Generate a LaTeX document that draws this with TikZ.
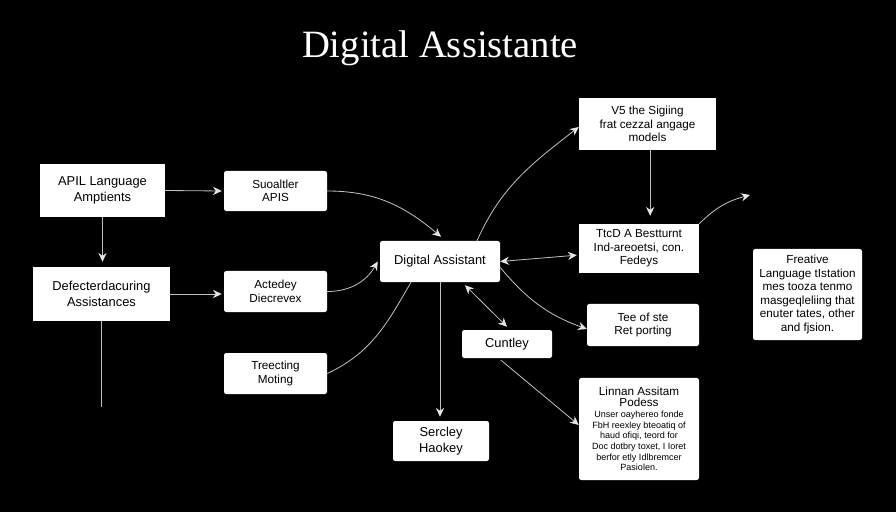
\documentclass[tikz,border=0pt]{standalone}
\usepackage{fontspec}
\setmainfont{Liberation Sans}
\newfontfamily\titlefont{Liberation Serif}
\usetikzlibrary{positioning}
\usetikzlibrary{arrows.meta}
\newcommand{\bodysize}{\fontsize{11}{13.6}\selectfont}
\newcommand{\smallsize}{\fontsize{10}{11.6}\selectfont}
\newcommand{\tinysize}{\fontsize{7.7}{9.1}\selectfont}

\begin{document}
\begin{tikzpicture}[x=0.03cm, y=-0.03cm,
    sqbox/.style={fill=white, text=black, align=center, inner sep=0pt, font=\bodysize},
    rbox/.style={sqbox, rounded corners=2pt},
    link/.style={draw=white!75!black, line width=0.7pt},
    arrow/.style={link, -{Stealth[length=7.5pt, width=7pt, color=white!90!black]}},
    twoway/.style={link, {Stealth[length=7.5pt, width=7pt, color=white!90!black]}-{Stealth[length=7.5pt, width=7pt, color=white!90!black]}}]
      \fill[black] (0,0) rectangle (896,512);
      \useasboundingbox (0,0) rectangle (896,512);

      \node(title) [text=white, font=\titlefont\fontsize{33}{36}\selectfont] at (440,48) {Digital Assistante};

      % left column
      \node(api) [sqbox, minimum width=3.75cm, minimum height=1.59cm] at (102.5,190.5) {APIL Language\\Amptients};
      \node(defect) [sqbox, minimum width=4.11cm, minimum height=1.62cm] at (101.5,294) {Defecterdacuring\\Assistances};
      \coordinate(defectend) at (101.5,407);

      % second column
      \node(supp) [rbox, font=\smallsize, minimum width=3.09cm, minimum height=1.2cm] at (275.5,191) {Suoaltler\\APIS};
      \node(acted) [rbox, font=\smallsize, minimum width=3.09cm, minimum height=1.23cm] at (275.5,291.5) {Actedey\\Diecrevex};
      \node(treec) [rbox, font=\smallsize, minimum width=3.09cm, minimum height=1.23cm] at (275.5,373.5) {Treecting\\Moting};

      % middle
      \node(da) [rbox, minimum width=3.6cm, minimum height=1.23cm] at (440,261.5) {Digital Assistant};
      \node(cunt) [rbox, minimum width=2.7cm, minimum height=0.84cm] at (507,344) {Cuntley};
      \node(serc) [rbox, minimum width=2.88cm, minimum height=1.2cm] at (441,441) {Sercley\\Haokey};

      % right column
      \node(vs) [sqbox, font=\smallsize, minimum width=4.11cm, minimum height=1.56cm] at (647.5,124) {V5 the Sigiing\\frat cezzal angage\\models};
      \node(tecd) [sqbox, font=\smallsize, minimum width=3.6cm, minimum height=1.47cm] at (639,248.5) {TtcD A Bestturnt\\Ind-areoetsi, con.\\Fedeys};
      \node(tee) [rbox, font=\smallsize, minimum width=3.36cm, minimum height=1.26cm] at (643,325) {Tee of ste\\Ret porting};
      \node(linn) [rbox, font=\tinysize, minimum width=3.6cm, minimum height=3.06cm] at (639,429) {\smallsize Linnan Assitam\\\smallsize Podess\\[0.5pt]\tinysize Unser oayhereo fonde\\FbH reexley bteoatiq of\\haud ofiqi, teord for\\Doc dotbry toxet, I Ioret\\berfor etly Idlbremcer\\Pasiolen.};
      \node(frea) [rbox, font=\smallsize, minimum width=3.27cm, minimum height=2.73cm] at (807.5,294.5) {Freative\\Language tIstation\\mes tooza tenmo\\masgeqleliing that\\enuter tates, other\\and fjsion.};
      \coordinate(freeend) at (750,195);

      \draw[arrow] (api.east) -- ([xshift=-0.06cm]supp.west);
      \draw[arrow] (api.south) -- ([yshift=0.15cm]api.south |- defect.north);
      \draw[arrow] (defect.east) -- ([xshift=-0.06cm]defect.east -| acted.west);
      \draw[link] (defect.south) -- (defectend);

      \draw[arrow] (supp.east) to[out=0, in=140] ([xshift=0.03cm, yshift=0.12cm]da.north);
      \draw[arrow] (acted.east) to[out=0, in=240] ([xshift=-0.06cm]da.west);
      \draw[link] (treec.east) to[out=25, in=240] ([xshift=-0.87cm]da.south);

      \draw[arrow] ([xshift=1.11cm]da.north) to[out=66, in=218] ([yshift=-0.09cm]vs.west);
      \draw[arrow] ([xshift=0.08cm]vs.south) -- ([xshift=0.08cm, yshift=0.24cm]vs.south |- tecd.north);
      \draw[arrow] (tecd.north east) to[out=45, in=195] (freeend);

      \draw[twoway] (da.east) -- ([xshift=-0.06cm, yshift=-0.2cm]tecd.west);
      \draw[arrow] ([yshift=-0.18cm]da.east) to[out=-50, in=160] ([yshift=-0.12cm]tee.west);
      \draw[twoway] ([xshift=0.75cm, yshift=-0.09cm]da.south) -- ([yshift=0.09cm]cunt.north);
      \draw[arrow] ([xshift=-0.18cm, yshift=-0.06cm]cunt.south) -- ([yshift=0.12cm]linn.west);
      \draw[arrow] (da.south) -- ([yshift=0.12cm]da.south |- serc.north);
    \end{tikzpicture}
\end{document}
